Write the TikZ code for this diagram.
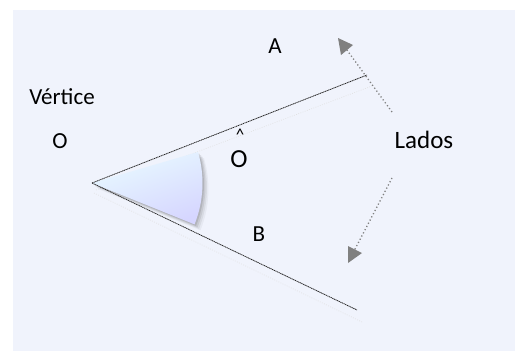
\documentclass[tikz,border=0pt]{standalone}
\usepackage{fontspec}
\setmainfont{Carlito}
\usetikzlibrary{shapes.geometric}
\definecolor{panel}{RGB}{240,243,252}
\definecolor{arrowgray}{RGB}{128,128,128}
\definecolor{secA}{RGB}{232,250,255}
\definecolor{secB}{RGB}{214,214,255}
\tikzset{
  lbl/.style={inner sep=0pt, anchor=base, font=\fontsize{23}{27}\selectfont, text=black},
  side/.style={draw=black!85, line width=0.8pt, dash pattern=on 1.2pt off 0.6pt},
  sideshadow/.style={draw=black!12, line width=0.6pt, dash pattern=on 0.8pt off 1.5pt},
  pointer/.style={draw=arrowgray, line width=1.3pt, dash pattern=on 1.2pt off 2.4pt},
  head/.style={fill=arrowgray, draw=none}
}
\begin{document}
\begin{tikzpicture}[x=1pt,y=-1pt]
\useasboundingbox (0,0) rectangle (515,356);
\fill[panel] (13,10) rectangle (515,351);

% named points
\coordinate (V) at (92,183);
\coordinate (Aend) at (367,75);
\coordinate (Bend) at (357,310);
\coordinate (P1) at (392,112);
\coordinate (H1) at (344,46);
\coordinate (P2) at (392,178);
\coordinate (H2) at (353,253);

% faint shadow lines
\draw[sideshadow] (96,190) -- (372,86);
\draw[sideshadow] (94,193) -- (362,322);

% sector shadow
\foreach \d/\o in {6/0.04,4.5/0.06,3/0.08,1.5/0.1}{
  \fill[black,opacity=\o] ([shift={(\d,\d)}]V) -- ([shift={(\d,\d)}]198,152)
    arc[start angle=-16.3, end angle=21.8, radius=111] -- cycle;
}
% sector
\shade[top color=secA, bottom color=secB, shading angle=20]
  (V) -- (198,152) arc[start angle=-16.3, end angle=21.8, radius=111] -- cycle;

% sides
\draw[side] (V) -- (Aend);
\draw[side] (V) -- (Bend);

% pointers
\draw[pointer] (P1) -- (H1);
\fill[head] (338,38) -- (353,45) -- (341,55) -- cycle;
\draw[pointer] (P2) -- (H2);
\fill[head] (348,246) -- (362,253) -- (348,263) -- cycle;

% labels
\node[lbl] (A) at (275,53) {A};
\node[lbl] (B) at (259,241) {B};
\node[lbl] (vert) at (62,104) {Vértice};
\node[lbl] (O) at (60,148) {O};
\node[lbl, font=\fontsize{25}{29}\selectfont] (lados) at (424,148) {Lados};
\node[lbl, font=\fontsize{26}{30}\selectfont] (Ohat) at (239,167) {O};
\node[inner sep=0pt, font=\fontsize{17}{20}\selectfont] (hat) at (240,135) {\textasciicircum};
\end{tikzpicture}
\end{document}
